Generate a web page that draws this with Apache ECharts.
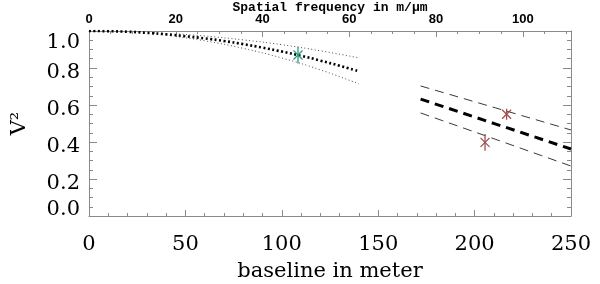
<!DOCTYPE html>
<html><head><meta charset="utf-8">
<script src="https://cdn.jsdelivr.net/npm/echarts@6/dist/echarts.min.js"></script>
<style>html,body{margin:0;padding:0;background:#fff}#c{width:600px;height:284px}</style>
</head><body><div id="c"></div>
<script>
// model curve, short baselines (dotted)
var modelA_b = [0, 10, 20, 30, 40, 50, 60, 70, 80, 90, 100, 110, 120, 130, 140];
var modelA_v = [1.0, 0.999, 0.996, 0.99, 0.982, 0.972, 0.96, 0.946, 0.929, 0.91, 0.889, 0.866, 0.84, 0.812, 0.782];
var boundA_b = [45, 60, 80, 100, 120, 140];
var boundA_up = [0.985, 0.973, 0.952, 0.926, 0.893, 0.855];
var boundA_lo = [0.970, 0.947, 0.906, 0.854, 0.790, 0.714];
// model curve, long baselines (dashed)
var modelB_b = [172, 211, 250];
var modelB_v = [0.632, 0.497, 0.362];
var boundB_up = [0.703, 0.584, 0.465];
var boundB_lo = [0.557, 0.414, 0.270];
// measurements
var greenPts = [[108.4, 0.87, 0.045]];
var redPts = [[216.6, 0.55, 0.03], [205.4, 0.398, 0.045]];
var yTicks = [0, 0.2, 0.4, 0.6, 0.8, 1.0];
var lambdaMicron = 2.25;

function zip(b, v){ return b.map(function(x,i){return [x, v[i]];}); }

var chart = echarts.init(document.getElementById('c'), null, {renderer:'canvas'});
var axisCol = '#8a8a8a';
var serif = 'DejaVu Serif';

function errRender(color){
  return function(params, api){
    var b = api.value(0), v = api.value(1), e = api.value(2);
    var p = api.coord([b, v]), t = api.coord([b, v+e]), d = api.coord([b, v-e]);
    var s = 4.5;
    var st = {stroke: color, lineWidth: 1.3};
    return {type:'group', children:[
      {type:'line', shape:{x1:t[0], y1:t[1], x2:d[0], y2:d[1]}, style:st},
      {type:'line', shape:{x1:p[0]-s, y1:p[1]-s, x2:p[0]+s, y2:p[1]+s}, style:st},
      {type:'line', shape:{x1:p[0]-s, y1:p[1]+s, x2:p[0]+s, y2:p[1]-s}, style:st}
    ]};
  };
}

var option = {
  animation: false,
  backgroundColor: '#fff',
  grid: {left: 89, right: 29, top: 31, bottom: 68, show: false, containLabel: false, outerBoundsMode: 'none'},
  xAxis: [{
    type: 'value', min: 0, max: 250, interval: 50, position: 'bottom',
    name: 'baseline in meter', nameLocation: 'middle', nameGap: 45,
    nameTextStyle: {fontFamily: serif, fontSize: 21, color: '#000'},
    axisLine: {show: true, onZero: false, lineStyle: {color: axisCol, width: 1}},
    axisTick: {show: true, inside: true, length: 6, lineStyle: {color: axisCol}},
    minorTick: {show: true, splitNumber: 5, length: 3, lineStyle: {color: axisCol}},
    axisLabel: {fontFamily: serif, fontSize: 21, color: '#000', margin: 18},
    splitLine: {show: false}
  }, {
    type: 'value', min: 0, max: 250 / lambdaMicron, interval: 20, position: 'top',
    name: 'Spatial frequency in m/\u03bcm', nameLocation: 'middle', nameGap: 17, nameMoveOverlap: false,
    nameTextStyle: {fontFamily: 'Liberation Mono', fontWeight: 'bold', fontSize: 13, color: '#000'},
    axisLine: {show: true, onZero: false, lineStyle: {color: axisCol, width: 1}},
    axisTick: {show: true, inside: true, length: 6, lineStyle: {color: axisCol}},
    minorTick: {show: true, splitNumber: 4, length: 3, lineStyle: {color: axisCol}},
    axisLabel: {fontFamily: 'Liberation Sans', fontWeight: 'bold', fontSize: 13, color: '#000', margin: 5,
      showMaxLabel: false},
    splitLine: {show: false}
  }],
  yAxis: [{
    type: 'value', min: 0, max: 1, interval: 0.2, position: 'left',
    name: 'V\u00b2', nameLocation: 'middle', nameGap: 59, nameRotate: 90,
    nameTextStyle: {fontFamily: serif, fontSize: 21, color: '#000'},
    axisLine: {show: true, onZero: false, lineStyle: {color: axisCol, width: 1}},
    axisTick: {show: true, inside: true, length: 8, lineStyle: {color: axisCol}},
    minorTick: {show: true, splitNumber: 4, length: 4, lineStyle: {color: axisCol}},
    axisLabel: {fontFamily: serif, fontSize: 21, color: '#000', margin: 9,
      formatter: function(v){
        var s = v.toFixed(1);
        if (Math.abs(v - yTicks[yTicks.length-1]) < 1e-9) return '{t|' + s + '}';
        if (Math.abs(v - yTicks[0]) < 1e-9) return '{b|' + s + '}';
        return '{m|' + s + '}';
      },
      rich: {
        t: {fontFamily: serif, fontSize: 21, color: '#000', padding: [24, 0, 0, 0]},
        b: {fontFamily: serif, fontSize: 21, color: '#000', padding: [0, 0, 12, 0]},
        m: {fontFamily: serif, fontSize: 21, color: '#000', padding: [9, 0, 0, 0]}
      }
    },
    splitLine: {show: false}
  }, {
    type: 'value', min: 0, max: 1, interval: 0.2, position: 'right',
    axisLine: {show: true, onZero: false, lineStyle: {color: axisCol, width: 1}},
    axisTick: {show: true, inside: true, length: 8, lineStyle: {color: axisCol}},
    minorTick: {show: true, splitNumber: 4, length: 4, lineStyle: {color: axisCol}},
    axisLabel: {show: false},
    splitLine: {show: false}
  }],
  series: [
    {type: 'line', data: zip(modelA_b, modelA_v), showSymbol: false, smooth: true,
      lineStyle: {color: '#000', width: 2.6, type: [2, 2.5]}},
    {type: 'line', data: zip(boundA_b, boundA_up), showSymbol: false, smooth: true,
      lineStyle: {color: '#222', width: 0.8, type: [1, 2.5]}},
    {type: 'line', data: zip(boundA_b, boundA_lo), showSymbol: false, smooth: true,
      lineStyle: {color: '#222', width: 0.8, type: [1, 2.5]}},
    {type: 'line', data: zip(modelB_b, modelB_v), showSymbol: false,
      lineStyle: {color: '#000', width: 3, type: [9, 6]}},
    {type: 'line', data: zip(modelB_b, boundB_up), showSymbol: false,
      lineStyle: {color: '#222', width: 0.9, type: [9, 6]}},
    {type: 'line', data: zip(modelB_b, boundB_lo), showSymbol: false,
      lineStyle: {color: '#222', width: 0.9, type: [9, 6]}},
    {type: 'custom', data: greenPts, renderItem: errRender('#2e9a7e'), z: 5},
    {type: 'custom', data: redPts, renderItem: errRender('#a0504f'), z: 5}
  ]
};
chart.setOption(option);
</script></body></html>
